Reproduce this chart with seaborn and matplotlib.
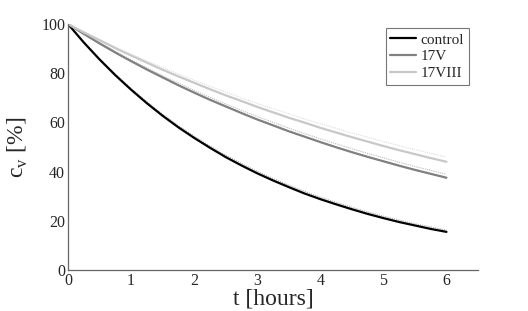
import numpy as np
import pandas as pd
import matplotlib
matplotlib.use("Agg")
import matplotlib.pyplot as plt
import seaborn as sns

t = [0, 0.25, 0.5, 0.75, 1, 1.25, 1.5, 1.75, 2, 2.25, 2.5, 2.75, 3,
     3.25, 3.5, 3.75, 4, 4.25, 4.5, 4.75, 5, 5.25, 5.5, 5.75, 6]
control = [100, 92.5, 85.6, 79.2, 73.3, 67.8, 62.7, 58.0, 53.7, 49.7, 45.9, 42.5, 39.3,
           36.4, 33.7, 31.1, 28.8, 26.7, 24.7, 22.8, 21.1, 19.5, 18.1, 16.7, 15.5]
v17 = [100, 96.0, 92.1, 88.4, 84.9, 81.5, 78.3, 75.1, 72.1, 69.2, 66.5, 63.8, 61.2,
       58.8, 56.4, 54.2, 52.0, 49.9, 47.9, 46.0, 44.2, 42.4, 40.7, 39.1, 37.5]
v17viii = [100, 96.6, 93.4, 90.2, 87.2, 84.3, 81.4, 78.7, 76.1, 73.5, 71.0, 68.7, 66.3,
           64.1, 61.9, 59.9, 57.8, 55.9, 54.0, 52.2, 50.4, 48.7, 47.1, 45.5, 44.0]
# dotted fitted curves
control_fit = [100, 92.7, 85.9, 79.6, 73.8, 68.4, 63.3, 58.7, 54.4, 50.4, 46.7, 43.3, 40.1,
               37.2, 34.5, 32.0, 29.6, 27.5, 25.5, 23.6, 21.9, 20.3, 18.8, 17.5, 16.2]
v17_fit = [100, 96.2, 92.5, 88.9, 85.5, 82.2, 79.0, 76.0, 73.0, 70.2, 67.5, 64.9, 62.4,
           60.0, 57.7, 55.5, 53.3, 51.3, 49.3, 47.4, 45.6, 43.8, 42.1, 40.5, 38.9]
v17viii_fit = [100, 96.8, 93.7, 90.7, 87.8, 85.0, 82.3, 79.7, 77.1, 74.7, 72.3, 70.0, 67.7,
               65.6, 63.5, 61.4, 59.5, 57.6, 55.7, 54.0, 52.2, 50.6, 48.9, 47.4, 45.9]

names = ["control", "17V", "17VIII"]
colors = ["#000000", "#808080", "#c8c8c8"]

df = pd.DataFrame({
    "t": t * 3,
    "c": control + v17 + v17viii,
    "series": sum([[n] * len(t) for n in names], []),
})
df_fit = pd.DataFrame({
    "t": t * 3,
    "c": control_fit + v17_fit + v17viii_fit,
    "series": sum([[n] * len(t) for n in names], []),
})

sns.set_style("white")
plt.rcParams["font.family"] = ["Liberation Serif", "DejaVu Serif"]
plt.rcParams["mathtext.fontset"] = "custom"
plt.rcParams["mathtext.rm"] = "Liberation Sans"

fig = plt.figure(figsize=(5.28, 3.11), dpi=100)
ax = fig.add_axes([68 / 528, 1 - 270 / 311, (478 - 68) / 528, (270 - 24) / 311])

sns.lineplot(data=df_fit, x="t", y="c", hue="series", palette=["#aaaaaa", "#bbbbbb", "#dddddd"],
             hue_order=names, ax=ax, linestyle=(0, (1, 1)), linewidth=0.8, legend=False)
sns.lineplot(data=df, x="t", y="c", hue="series", palette=colors, hue_order=names,
             ax=ax, linewidth=1.6)

ax.set_xlim(0, 6.5)
ax.set_ylim(0, 100)
ax.set_xticks([0, 1, 2, 3, 4, 5, 6])
ax.set_yticks([0, 20, 40, 60, 80, 100])
ax.tick_params(direction="in", length=4, width=0.8, color="#555555", labelsize=11.5,
               pad=2)
for s in ["top", "right"]:
    ax.spines[s].set_visible(False)
for s in ["left", "bottom"]:
    ax.spines[s].set_color("#666666")
    ax.spines[s].set_linewidth(0.9)

ax.set_xlabel("t [hours]", fontsize=17, labelpad=0)
ax.set_ylabel("$\\mathregular{c}_\\mathregular{v}$ [%]", fontsize=17, labelpad=8)

leg = ax.legend(loc="upper right", bbox_to_anchor=(0.985, 0.995), fontsize=11,
                frameon=True, fancybox=False, handlelength=1.7, handletextpad=0.3,
                borderpad=0.3, labelspacing=0.2, borderaxespad=0.2)
leg.get_frame().set_edgecolor("#555555")
leg.get_frame().set_linewidth(0.8)

fig.savefig("out.png", dpi=100)
